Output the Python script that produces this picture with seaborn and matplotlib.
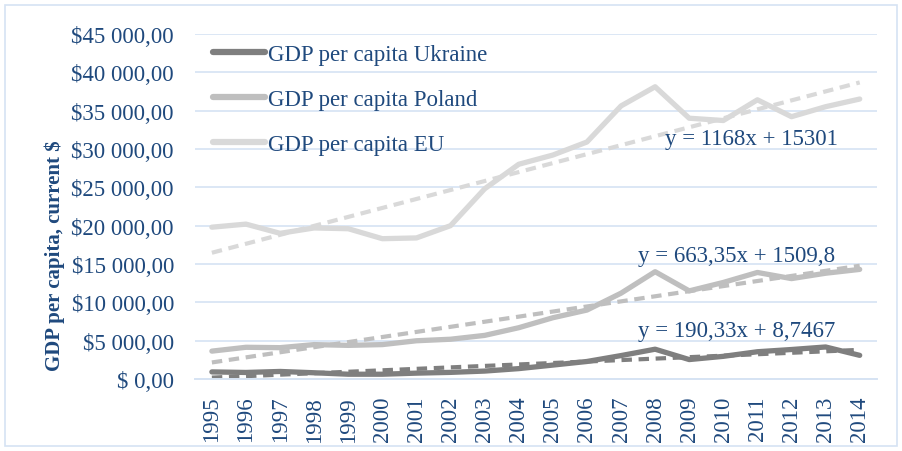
import numpy as np
import pandas as pd
import matplotlib.pyplot as plt
import seaborn as sns
from matplotlib.patches import Rectangle

# --- Data ---
years = list(range(1995, 2015))
ukraine = [940, 870, 1000, 830, 640, 640, 780, 880, 1050, 1370,
           1830, 2300, 3070, 3900, 2550, 2970, 3570, 3860, 4190, 3100]
poland = [3650, 4150, 4100, 4500, 4400, 4500, 5000, 5200, 5700, 6700,
          8000, 9000, 11200, 14000, 11500, 12600, 13900, 13100, 13800, 14300]
eu = [19800, 20200, 19000, 19700, 19600, 18300, 18400, 20000, 24800, 28000,
      29200, 30900, 35600, 38100, 34000, 33700, 36400, 34200, 35500, 36500]

series_names = ["GDP per capita Ukraine", "GDP per capita Poland", "GDP per capita EU"]
trend_slopes = [190.33, 663.35, 1168]
trend_intercepts = [8.7467, 1509.8, 15301]
trend_labels = ["y = 190,33x + 8,7467", "y = 663,35x + 1509,8", "y = 1168x + 15301"]

colors = ["#7f7f7f", "#bfbfbf", "#d9d9d9"]
text_color = "#1f497d"
grid_color = "#d6e3f3"

idx = np.arange(1, len(years) + 1)
df = pd.DataFrame({
    "x": np.tile(idx, 3),
    "value": ukraine + poland + eu,
    "series": np.repeat(series_names, len(years)),
})

sns.set_theme(style="white")
plt.rcParams["font.family"] = ["Liberation Serif", "DejaVu Serif"]

fig = plt.figure(figsize=(9.02, 4.52), dpi=100)
ax = fig.add_axes([0.216, 0.159, 0.756, 0.764])

# trend lines (drawn first, under the data)
for slope, icpt, c in zip(trend_slopes, trend_intercepts, colors):
    tdf = pd.DataFrame({"x": idx, "value": slope * idx + icpt})
    sns.lineplot(data=tdf, x="x", y="value", ax=ax, color=c, lw=3,
                 linestyle=(0, (2.5, 1.6)), legend=False)

sns.lineplot(data=df, x="x", y="value", hue="series", hue_order=series_names,
             palette=colors, ax=ax, lw=3.8, legend=True)

ax.set_xlim(0.5, len(years) + 0.5)
ax.set_ylim(0, 45000)
ax.set_yticks(np.arange(0, 45001, 5000))
ax.set_yticklabels(["$ 0,00"] + [f"${v // 1000} 000,00" for v in range(5000, 45001, 5000)])
ax.set_xticks(idx)
ax.set_xticklabels([str(y) for y in years], rotation=90)
ax.set_xticks(np.arange(0.5, len(years) + 1, 1), minor=True)
ax.tick_params(axis="x", which="major", length=0, pad=12, labelsize=16.5, colors=text_color)
ax.tick_params(axis="x", which="minor", length=5, width=1.2, color=grid_color, direction="out")
ax.tick_params(axis="y", length=0, pad=15, labelsize=16.5, colors=text_color)
ax.grid(axis="y", color=grid_color, lw=1.2)
ax.set_axisbelow(True)
for s in ["top", "right", "left"]:
    ax.spines[s].set_visible(False)
ax.spines["bottom"].set_color(grid_color)
ax.spines["bottom"].set_linewidth(1.4)

ax.set_xlabel("")
ax.set_ylabel("GDP per capita, current $", fontsize=15, fontweight="bold", color=text_color)
ax.yaxis.set_label_coords(-0.19, 0.36)

# trend equations
label_pos = [(16.4, 5600), (16.4, 15400), (16.83, 30650)]
for (lx, ly), txt in zip(label_pos, trend_labels):
    ax.text(lx, ly, txt, ha="center", va="baseline", fontsize=16.5, color=text_color)

leg = ax.legend(loc="upper left", bbox_to_anchor=(0.027, 0.97), frameon=False,
                fontsize=16.5, handlelength=2.25, handletextpad=0.15,
                labelspacing=1.05, borderaxespad=0, borderpad=0)
for t in leg.get_texts():
    t.set_color(text_color)
for h in leg.get_lines():
    h.set_linewidth(4.5)

fig.patches.append(Rectangle((0.006, 0.012), 0.988, 0.975, transform=fig.transFigure,
                             fill=False, edgecolor=grid_color, lw=1.2))

fig.savefig("out.png", dpi=100)
